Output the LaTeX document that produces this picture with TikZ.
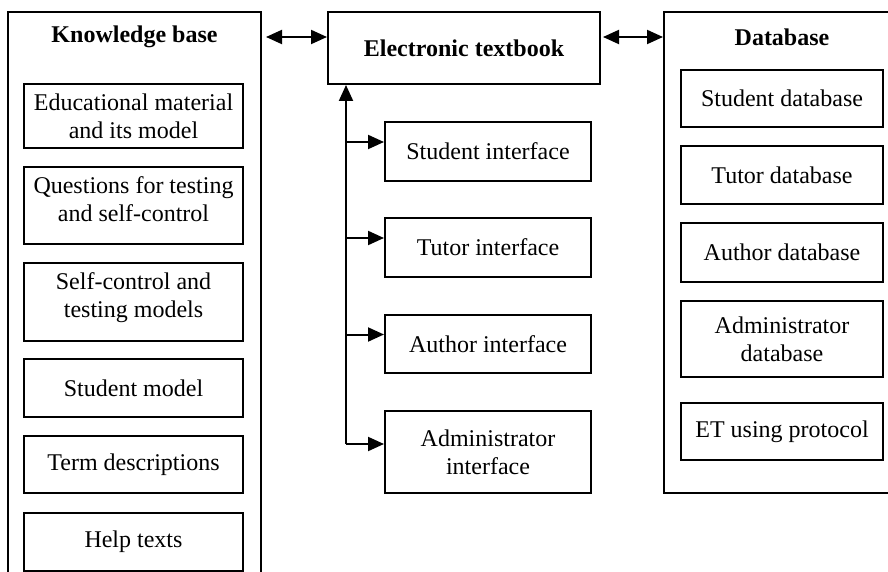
\documentclass[tikz,border=0pt]{standalone}
\usepackage{fontspec}
\setmainfont{Liberation Serif}
\usetikzlibrary{arrows.meta}
\begin{document}
\begin{tikzpicture}[x=0.5pt,y=-0.5pt,
    box/.style={draw,line width=1pt,align=center,inner sep=0pt,font=\fontsize{12}{14}\selectfont},
    title/.style={font=\fontsize{12}{14}\selectfont\bfseries},
    arr/.style={line width=1pt,-{Triangle[length=8pt,width=7pt]}},
    dblarr/.style={line width=1pt,{Triangle[length=8pt,width=7pt]}-{Triangle[length=8pt,width=7pt]}}]
    %\draw[help lines,step=50] (0,0) grid (888,572);
    \useasboundingbox (0,0) rectangle (888,572);
    \clip (0,0) rectangle (888,572);
    \coordinate (sp) at (346,0);

    % knowledge base
    \node[box,minimum width=126.5pt,minimum height=310pt] (kb) at (134.5,322) {};
    \node[title] (kbt) at (134.5,37) {Knowledge base};
    \node[box,minimum width=109.5pt,minimum height=32pt] (kb1) at (133.5,116) {Educational material\\and its model};
    \node[box,minimum width=109.5pt,minimum height=38.5pt,text depth=6.5pt] (kb2) at (133.5,205.5) {Questions for testing\\and self-control};
    \node[box,minimum width=109.5pt,minimum height=39pt,text depth=6.5pt] (kb3) at (133.5,302) {Self-control and\\testing models};
    \node[box,minimum width=109.5pt,minimum height=29pt] (kb4) at (133.5,388) {Student model};
    \node[box,minimum width=109.5pt,minimum height=28.5pt] (kb5) at (133.5,464.5) {Term descriptions};
    \node[box,minimum width=109.5pt,minimum height=29pt] (kb6) at (133.5,542) {Help texts};

    % textbook and interfaces
    \node[box,minimum width=136pt,minimum height=36pt,font=\fontsize{12}{14}\selectfont\bfseries] (et) at (464,48) {Electronic textbook};
    \node[box,minimum width=103pt,minimum height=29.5pt] (si) at (488,151.5) {Student interface};
    \node[box,minimum width=103pt,minimum height=29.5pt] (ti) at (488,247.5) {Tutor interface};
    \node[box,minimum width=103pt,minimum height=29pt] (ai) at (488,344) {Author interface};
    \node[box,minimum width=103pt,minimum height=41pt] (adi) at (488,452) {Administrator\\interface};

    % database
    \node[box,minimum width=138pt,minimum height=240.5pt] (db) at (802,252.5) {};
    \node[title] (dbt) at (782,37) {Database};
    \node[box,minimum width=101pt,minimum height=28.5pt] (db1) at (782,98.5) {Student database};
    \node[box,minimum width=101pt,minimum height=29pt] (db2) at (782,175) {Tutor database};
    \node[box,minimum width=101pt,minimum height=29.5pt] (db3) at (782,252.5) {Author database};
    \node[box,minimum width=101pt,minimum height=38pt] (db4) at (782,339) {Administrator\\database};
    \node[box,minimum width=101pt,minimum height=28.5pt] (db5) at (782,431.5) {ET using protocol};

    % connections
    \draw[dblarr,shorten <=2pt] ([yshift=5.5pt]et.west -| kb.east) -- ([yshift=5.5pt]et.west);
    \draw[dblarr,shorten <=1pt] ([yshift=5.5pt]et.east) -- ([yshift=5.5pt]et.east -| db.west);
    \draw[arr] ([yshift=4pt]adi.west -| sp) -- (sp |- et.south);
    \draw[arr] ([yshift=4.75pt]si.west -| sp) -- ([yshift=4.75pt]si.west);
    \draw[arr] ([yshift=4.75pt]ti.west -| sp) -- ([yshift=4.75pt]ti.west);
    \draw[arr] ([yshift=4.75pt]ai.west -| sp) -- ([yshift=4.75pt]ai.west);
    \draw[arr] ([yshift=4pt]adi.west -| sp) -- ([yshift=4pt]adi.west);
\end{tikzpicture}
\end{document}
